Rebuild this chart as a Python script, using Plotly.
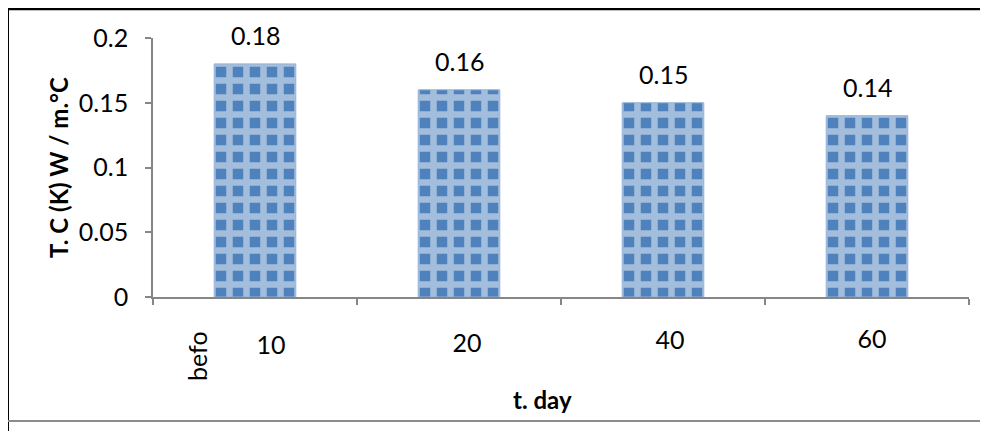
import plotly.graph_objects as go

# ---- data ----
categories = ["10", "20", "40", "60"]
values = [0.18, 0.16, 0.15, 0.14]
value_labels = ["0.18", "0.16", "0.15", "0.14"]
tick_labels = ["10", "20", "40", "60"]
y_ticks = [0, 0.05, 0.1, 0.15, 0.2]

# ---- layout geometry (pixels in the 988x431 window) ----
OFF = 8                      # default page margin of the html body
W, H = 988 - OFF, 431 - OFF
L, R, T, B = 153, 969, 38, 297   # main plot area
BOT = 411                        # bottom of the paper area
CAT_W = (R - L) / len(categories)


def px(xp):
    return (xp - L) / (R - L)


def py(yp):
    return (BOT - yp) / (BOT - T)


FONT = "Lato, Open Sans, sans-serif"
BLUE = "#4F81BD"
AXIS = "#868686"

idx = list(range(len(categories)))

fig = go.Figure()

fig.add_trace(go.Bar(
    x=idx,
    y=values,
    width=0.4,
    marker=dict(
        color=BLUE,
        line=dict(color="#95B3D7", width=1),
        pattern=dict(shape="+", size=17, solidity=0.62,
                     fgcolor="#A3BDDC", bgcolor=BLUE, fillmode="replace"),
    ),
    hoverinfo="skip",
    showlegend=False,
))

# category tick labels in a strip subplot below the axis
# (slightly offset, and clipped at the bottom like the original)
STRIP_TOP, STRIP_BOT = 300, 405
label_dx_px = [16, 8, 7, 5]
label_cy_px = [348, 346, 343, 342]
fig.add_trace(go.Scatter(
    x=[i + d / CAT_W for i, d in zip(idx, label_dx_px)],
    y=[(STRIP_BOT - c) / (STRIP_BOT - STRIP_TOP) for c in label_cy_px],
    xaxis="x2", yaxis="y2",
    mode="text",
    text=tick_labels,
    textposition="middle center",
    textfont=dict(family=FONT, size=25, color="black"),
    cliponaxis=False,
    hoverinfo="skip",
    showlegend=False,
))

annotations = []
for i, v, t in zip(idx, values, value_labels):
    annotations.append(dict(
        x=i, y=v, xref="x", yref="y", text=t, showarrow=False,
        xanchor="center", yanchor="bottom", yshift=12,
        font=dict(family=FONT, size=25, color="black"),
    ))

annotations += [
    dict(x=px(58), y=py(168), xref="paper", yref="paper",
         xanchor="center", yanchor="middle",
         text="<b>T. C (K) W / m.°C</b>", textangle=-90, showarrow=False,
         font=dict(family=FONT, size=24, color="black")),
    dict(x=px(542), y=py(399), xref="paper", yref="paper",
         xanchor="center", yanchor="middle",
         text="<b>t. day</b>", showarrow=False,
         font=dict(family=FONT, size=24, color="black")),
    dict(x=px(197), y=py(356), xref="paper", yref="paper",
         xanchor="center", yanchor="middle",
         text="befo", textangle=-90, showarrow=False,
         font=dict(family=FONT, size=25, color="black")),
]

shapes = []
# white masks that clip the bottom of the labels 20, 40, 60
clip_px = [None, 352, 349, 348]
for i, d, c in zip(idx, label_dx_px, clip_px):
    if c is None:
        continue
    xc = i + d / CAT_W
    shapes.append(dict(type="rect", xref="x2", yref="paper",
                       x0=xc - 28 / CAT_W, x1=xc + 28 / CAT_W,
                       y0=py(c + 14), y1=py(c),
                       fillcolor="white", line=dict(width=0), layer="above"))

# outer document border
shapes += [
    dict(type="line", xref="paper", yref="paper", x0=px(7), x1=px(990),
         y0=py(9), y1=py(9), line=dict(color="black", width=2.5), layer="above"),
    dict(type="line", xref="paper", yref="paper", x0=px(8), x1=px(8),
         y0=py(8), y1=py(433), line=dict(color="black", width=2), layer="above"),
    dict(type="line", xref="paper", yref="paper", x0=px(8), x1=px(990),
         y0=py(421), y1=py(421), line=dict(color="#8C8C8C", width=2), layer="above"),
]

fig.update_layout(
    width=W, height=H,
    margin=dict(l=L - OFF, r=988 - R, t=T - OFF, b=431 - BOT, autoexpand=False),
    paper_bgcolor="white", plot_bgcolor="white",
    font=dict(family=FONT, size=25, color="black"),
    xaxis=dict(
        domain=[0, 1], anchor="y",
        range=[-0.5, len(categories) - 0.5],
        tickvals=[i - 0.5 for i in range(len(categories) + 1)],
        showticklabels=False,
        ticks="outside", ticklen=6,
        tickcolor=AXIS, tickwidth=1.5,
        showline=True, linecolor=AXIS, linewidth=1.5,
        showgrid=False, zeroline=False, fixedrange=True, automargin=False,
    ),
    yaxis=dict(
        domain=[py(B), 1], anchor="x",
        range=[0, 0.2],
        tickvals=y_ticks,
        ticktext=[f"{v:g}" for v in y_ticks],
        ticks="outside", ticklen=6, tickcolor=AXIS, tickwidth=1.5,
        ticklabelstandoff=12,
        showline=True, linecolor=AXIS, linewidth=1.5,
        showgrid=False, zeroline=False, fixedrange=True, automargin=False,
        tickfont=dict(family=FONT, size=25, color="black"),
    ),
    xaxis2=dict(
        domain=[0, 1], anchor="y2",
        range=[-0.5, len(categories) - 0.5],
        visible=False, fixedrange=True, automargin=False,
    ),
    yaxis2=dict(
        domain=[py(STRIP_BOT), py(STRIP_TOP)], anchor="x2",
        range=[0, 1],
        visible=False, fixedrange=True, automargin=False,
    ),
    annotations=annotations,
    shapes=shapes,
)

fig.write_html("out.html")
